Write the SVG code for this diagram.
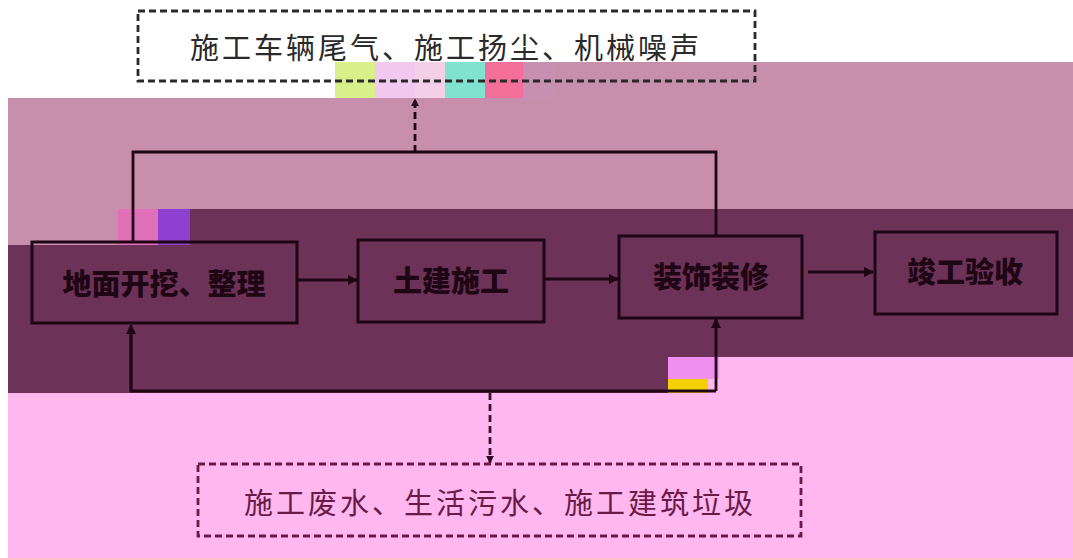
<svg xmlns="http://www.w3.org/2000/svg" width="1073" height="558" viewBox="0 0 1073 558">
<style>
.box{fill:none;stroke:#1e0614;stroke-width:3}
.lbl{font-family:"Noto Sans CJK SC","Noto Sans",sans-serif;font-weight:900;font-size:29px;fill:#1e0614;text-anchor:middle;dominant-baseline:central}
.ln{fill:none;stroke:#1e0614;stroke-width:2.8}
.dash{fill:none;stroke-width:2.8;stroke-dasharray:7 4}
.note{font-family:"Noto Sans CJK SC","Noto Sans",sans-serif;font-size:29px;text-anchor:middle;dominant-baseline:central;letter-spacing:3px}
</style>
<defs>
<marker id="ah" viewBox="0 0 10 10" refX="9" refY="5" markerWidth="10" markerHeight="10" markerUnits="userSpaceOnUse" orient="auto"><path d="M0,0 L10,5 L0,10 z" fill="#1e0614"/></marker>
<marker id="ahs" viewBox="0 0 10 10" refX="9" refY="5" markerWidth="8" markerHeight="8" markerUnits="userSpaceOnUse" orient="auto"><path d="M0,0 L10,5 L0,10 z" fill="#2e0a24"/></marker>
</defs>
<g id="background">
<rect x="0" y="0" width="1073" height="558" fill="#ffffff"/>
<rect x="8" y="98" width="1065" height="112" fill="#c78fac"/>
<rect x="555" y="62" width="518" height="36" fill="#c78fac"/>
<rect x="8" y="209" width="110" height="36" fill="#c78fac"/>
<rect x="190" y="209" width="883" height="36" fill="#6c3258"/>
<rect x="8" y="245" width="1065" height="112" fill="#6c3258"/>
<rect x="8" y="357" width="660" height="36" fill="#6c3258"/>
<rect x="719" y="357" width="354" height="36" fill="#feb8ef"/>
<rect x="8" y="393" width="1065" height="165" fill="#feb8ef"/>
<rect x="335" y="62" width="40" height="36" fill="#d8f08a"/>
<rect x="375" y="62" width="40" height="36" fill="#f0c8f0"/>
<rect x="415" y="62" width="30" height="36" fill="#f4d0e8"/>
<rect x="445" y="62" width="40" height="36" fill="#7fe3d0"/>
<rect x="485" y="62" width="38" height="36" fill="#f46e9a"/>
<rect x="523" y="62" width="32" height="36" fill="#c890b0"/>
<rect x="118" y="209" width="40" height="36" fill="#e070b8"/>
<rect x="158" y="209" width="32" height="36" fill="#9040d0"/>
<rect x="668" y="357" width="51" height="22" fill="#f090f0"/>
<rect x="668" y="379" width="40" height="14" fill="#f5d000"/>
<rect x="708" y="379" width="11" height="14" fill="#feb8ef"/>
</g>
<g id="connectors">
<line class="ln" x1="298" y1="280" x2="357" y2="280" marker-end="url(#ah)"/>
<line class="ln" x1="544" y1="279" x2="618" y2="279" marker-end="url(#ah)"/>
<line class="ln" x1="808" y1="272" x2="873" y2="272" stroke-width="3.8" marker-end="url(#ah)"/>
<polyline class="ln" points="133,242 133,152 716,152 716,236"/>
<line class="dash" stroke="#1e0614" x1="415" y1="152" x2="415" y2="99" marker-end="url(#ahs)"/>
<polyline class="ln" points="131,327 131,391 716,391"/>
<line class="ln" x1="131" y1="391" x2="131" y2="325" marker-end="url(#ah)"/>
<line class="ln" x1="716" y1="391" x2="716" y2="319" marker-end="url(#ah)"/>
<line class="dash" stroke="#3a1030" stroke-width="2.2" x1="490" y1="393" x2="490" y2="463" marker-end="url(#ahs)"/>
</g>
<g id="top-note">
<rect x="138" y="11" width="617" height="70" class="dash" stroke="#2a2a2a"/>
<text class="note" x="446" y="46" fill="#2a2a2a">施工车辆尾气、施工扬尘、机械噪声</text>
</g>
<g id="node-excavation">
<rect class="box" x="32" y="242" width="265" height="81"/>
<text class="lbl" x="164" y="282">地面开挖、整理</text>
</g>
<g id="node-civil">
<rect class="box" x="358" y="240" width="186" height="82"/>
<text class="lbl" x="451" y="279">土建施工</text>
</g>
<g id="node-decoration">
<rect class="box" x="619" y="236" width="183" height="82"/>
<text class="lbl" x="711" y="275">装饰装修</text>
</g>
<g id="node-acceptance">
<rect class="box" x="875" y="232" width="182" height="82"/>
<text class="lbl" x="965" y="270">竣工验收</text>
</g>
<g id="bottom-note">
<rect x="198" y="464" width="603" height="72" class="dash" stroke="#6b1a48"/>
<text class="note" x="500" y="501" fill="#6b1a48">施工废水、生活污水、施工建筑垃圾</text>
</g>
</svg>
